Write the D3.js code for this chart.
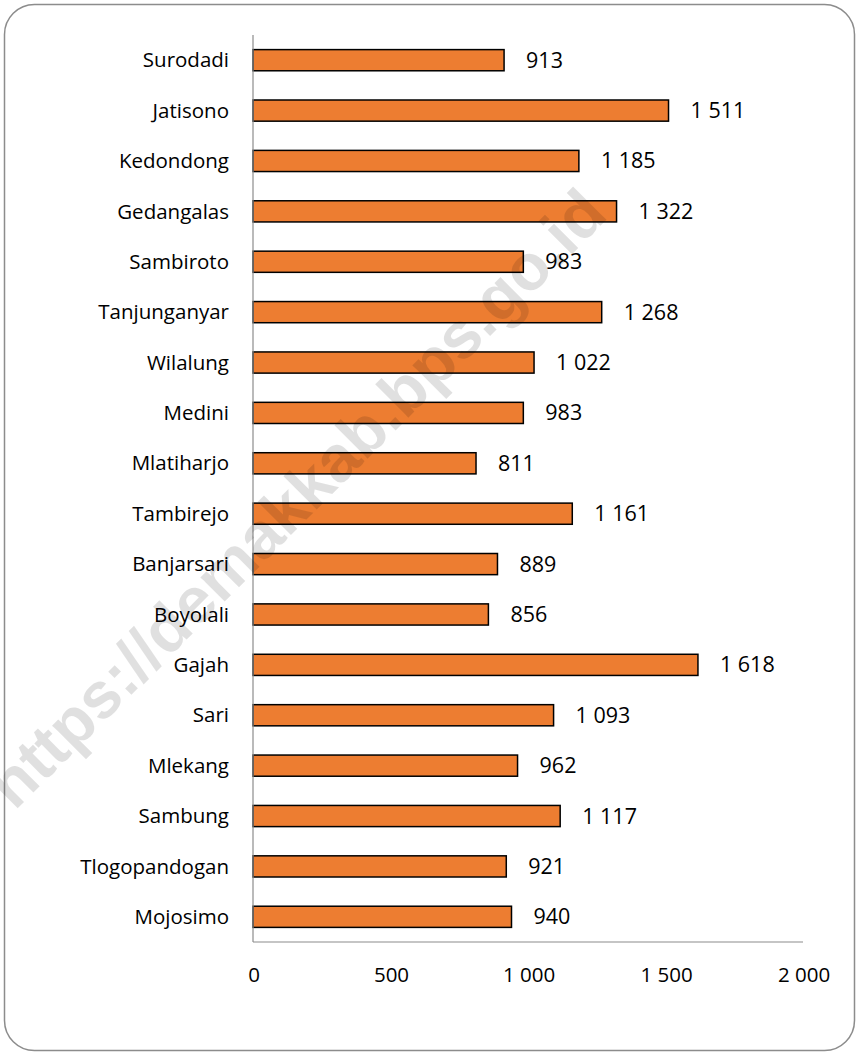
<!DOCTYPE html>
<html>
<head>
<meta charset="utf-8">
<script src="https://cdn.jsdelivr.net/npm/d3@7"></script>
<style>
  body { margin: 0; background: #fff; }
  svg text { font-family: "Open Sans", "Noto Sans", sans-serif; }
</style>
</head>
<body>
<svg id="chart"></svg>
<script>
const villages = ["Surodadi", "Jatisono", "Kedondong", "Gedangalas", "Sambiroto", "Tanjunganyar",
  "Wilalung", "Medini", "Mlatiharjo", "Tambirejo", "Banjarsari", "Boyolali", "Gajah", "Sari",
  "Mlekang", "Sambung", "Tlogopandogan", "Mojosimo"];
const values = [913, 1511, 1185, 1322, 983, 1268, 1022, 983, 811, 1161, 889, 856, 1618, 1093, 962, 1117, 921, 940];
const xTicks = [0, 500, 1000, 1500, 2000];

const width = 858, height = 1055;
const svg = d3.select("#chart").attr("width", width).attr("height", height);

// outer frame
svg.append("rect").attr("x", 4.5).attr("y", 4.5).attr("width", 850).attr("height", 1046)
  .attr("rx", 30).attr("fill", "#fff").attr("stroke", "#8c8c8c").attr("stroke-width", 1.5);

const fmt = v => d3.format(",")(v).replace(/,/g, " ");

const x = d3.scaleLinear().domain([0, 2000]).range([253, 803]);
const y = d3.scaleBand().domain(villages).range([35, 942]).paddingInner(0.58).paddingOuter(0.29);

// bars
svg.selectAll("rect.bar").data(villages).enter().append("rect")
  .attr("class", "bar")
  .attr("x", x(0))
  .attr("y", d => y(d))
  .attr("width", (d, i) => x(values[i]) - x(0))
  .attr("height", y.bandwidth())
  .attr("fill", "#ED7D31")
  .attr("stroke", "#000")
  .attr("stroke-width", 1.5);

// value labels
svg.selectAll("text.val").data(villages).enter().append("text")
  .attr("class", "val")
  .attr("x", (d, i) => x(values[i]) + 22)
  .attr("y", d => y(d) + y.bandwidth() / 2)
  .attr("dy", "0.35em")
  .attr("font-size", 21.5)
  .attr("fill", "#000")
  .text((d, i) => fmt(values[i]));

// category labels
svg.selectAll("text.cat").data(villages).enter().append("text")
  .attr("class", "cat")
  .attr("x", 229)
  .attr("y", d => y(d) + y.bandwidth() / 2)
  .attr("dy", "0.35em")
  .attr("text-anchor", "end")
  .attr("font-size", 20.5)
  .attr("fill", "#000")
  .text(d => d);

// axis lines
svg.append("line").attr("x1", x(0)).attr("x2", x(0)).attr("y1", 35).attr("y2", 942)
  .attr("stroke", "#8c8c8c").attr("stroke-width", 1.2);
svg.append("line").attr("x1", x(0)).attr("x2", x(2000)).attr("y1", 942).attr("y2", 942)
  .attr("stroke", "#8c8c8c").attr("stroke-width", 1.2);

// x tick labels
svg.selectAll("text.tick").data(xTicks).enter().append("text")
  .attr("class", "tick")
  .attr("x", d => x(d) + 1)
  .attr("y", 975)
  .attr("dy", "0.35em")
  .attr("text-anchor", "middle")
  .attr("font-size", 20.5)
  .attr("fill", "#000")
  .text(fmt);

// watermark
svg.append("text")
  .attr("transform", "translate(296,498) rotate(-45)")
  .attr("text-anchor", "middle")
  .attr("dy", "0.35em")
  .attr("font-size", 65)
  .attr("font-weight", "bold")
  .style("font-family", "'Liberation Sans', Arial, sans-serif")
  .attr("fill", "#000")
  .attr("fill-opacity", 0.12)
  .text("https://demakkab.bps.go.id");
</script>
</body>
</html>
